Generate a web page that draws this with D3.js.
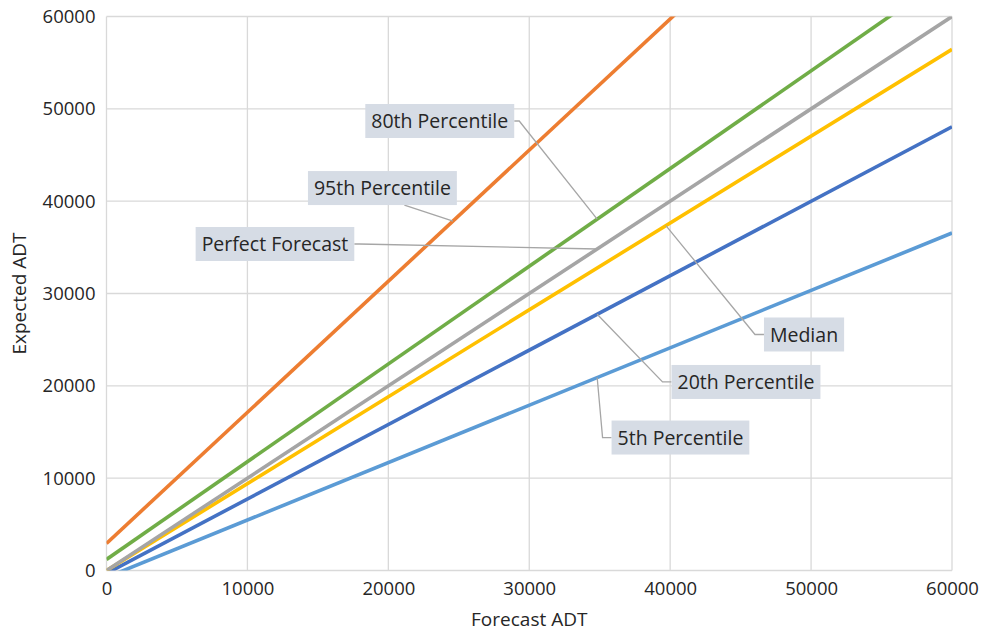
<!DOCTYPE html>
<html><head><meta charset="utf-8">
<script src="https://cdn.jsdelivr.net/npm/d3@7"></script>
<style>
body{margin:0;background:#fff;}
text{font-family:"Open Sans",sans-serif;fill:#262626;}
</style></head>
<body>
<svg id="chart" width="988" height="632"></svg>
<script>
// ---- data ----
const xTicks = [0,10000,20000,30000,40000,50000,60000];
const yTicks = [0,10000,20000,30000,40000,50000,60000];
const seriesNames = ["5th Percentile","20th Percentile","Median","Perfect Forecast","80th Percentile","95th Percentile"];
const seriesColors = ["#5B9BD5","#4472C4","#FFC000","#A5A5A5","#70AD47","#ED7D31"];
const forecastADT = [0, 60000];
const p5Values   = [-750, 36550];
const p20Values  = [-320, 48050];
const medianValues = [0, 56450];
const perfectValues = [0, 60000];
const p80Values  = [1200, 64700];
const p95Values  = [2930, 88130];
// annotation: label box centre (data units), where its leader meets its series (forecast value)
const labelSeries = ["80th Percentile","95th Percentile","Perfect Forecast","Median","20th Percentile","5th Percentile"];
const labelBoxX   = [23650, 19580, 11955, 49500, 45380, 40730];
const labelBoxY   = [48680, 41420, 35360, 25560, 20420, 14400];
const labelTouchX = [34820, 24590, 34820, 39700, 34820, 34820];
const labelSide   = ["right","bottom","right","left","left","left"];

const allValues = [p5Values,p20Values,medianValues,perfectValues,p80Values,p95Values];

const svg = d3.select("#chart");
const m = {left:106.5, right:36, top:16.5, bottom:61.5};
const W = 988, H = 632;
const x = d3.scaleLinear().domain([0,60000]).range([m.left, W-m.right]);
const y = d3.scaleLinear().domain([0,60000]).range([H-m.bottom, m.top]);

// grid
const grid = svg.append("g");
grid.selectAll(".gx").data(xTicks).join("line")
  .attr("x1",d=>x(d)).attr("x2",d=>x(d)).attr("y1",y(0)).attr("y2",y(60000))
  .attr("stroke","#D9D9D9").attr("stroke-width",1.3);
grid.selectAll(".gy").data(yTicks).join("line")
  .attr("y1",d=>y(d)).attr("y2",d=>y(d)).attr("x1",x(0)).attr("x2",x(60000))
  .attr("stroke","#D9D9D9").attr("stroke-width",1.3);

// axes (labels only)
const xAxis = d3.axisBottom(x).tickValues(xTicks).tickSize(0).tickPadding(8).tickFormat(d3.format("d"));
const yAxis = d3.axisLeft(y).tickValues(yTicks).tickSize(0).tickPadding(11).tickFormat(d3.format("d"));
const gx = svg.append("g").attr("transform",`translate(0,${y(0)})`).call(xAxis);
const gy = svg.append("g").attr("transform",`translate(${x(0)},0)`).call(yAxis);
[gx,gy].forEach(g=>{g.select(".domain").remove();
  g.selectAll("text").style("font-family","'Open Sans',sans-serif").style("font-size","18.5px").attr("fill","#262626");});
gx.selectAll("text").attr("dy","0.9em");

// clip
svg.append("clipPath").attr("id","clip").append("rect")
  .attr("x",x(0)).attr("y",y(60000)).attr("width",x(60000)-x(0)).attr("height",y(0)-y(60000));

const line = d3.line().x(d=>x(d[0])).y(d=>y(d[1]));
const lines = svg.append("g").attr("clip-path","url(#clip)");
allValues.forEach((vals,i)=>{
  lines.append("path").datum(forecastADT.map((f,j)=>[f,vals[j]]))
    .attr("d",line).attr("fill","none").attr("stroke",seriesColors[i])
    .attr("stroke-width",3.6).attr("stroke-linecap","butt");
});

function valueAt(name, fx){
  const v = allValues[seriesNames.indexOf(name)];
  return v[0] + (v[1]-v[0])*(fx-forecastADT[0])/(forecastADT[1]-forecastADT[0]);
}

// labels
const ann = svg.append("g");
labelSeries.forEach((name,i)=>{
  const cx = x(labelBoxX[i]), cy = y(labelBoxY[i]);
  const g = ann.append("g");
  const t = g.append("text").attr("x",cx).attr("y",cy).attr("text-anchor","middle")
    .attr("dy","0.36em").style("font-size","19.5px").text(name);
  const w = t.node().getComputedTextLength() + 12, h = 34;
  g.insert("rect","text").attr("x",cx-w/2).attr("y",cy-h/2).attr("width",w).attr("height",h).attr("fill","#D6DCE5");
  const tx = x(labelTouchX[i]), ty = y(valueAt(name, labelTouchX[i]));
  let pts;
  if(labelSide[i]==="right") pts = [[cx+w/2,cy],[cx+w/2+5,cy],[tx,ty]];
  else if(labelSide[i]==="left") pts = [[cx-w/2,cy],[cx-w/2-9,cy],[tx,ty]];
  else pts = [[cx+22,cy+h/2],[tx,ty]];
  ann.insert("path",":first-child").attr("d",d3.line()(pts)).attr("fill","none")
    .attr("stroke","#A6A6A6").attr("stroke-width",1.3);
});

// axis titles
svg.append("text").attr("x",(x(0)+x(60000))/2).attr("y",626).attr("text-anchor","middle")
  .style("font-size","19px").text("Forecast ADT");
svg.append("text").attr("transform",`translate(26,${(y(0)+y(60000))/2}) rotate(-90)`)
  .attr("text-anchor","middle").style("font-size","19px").text("Expected ADT");
</script>
</body></html>
